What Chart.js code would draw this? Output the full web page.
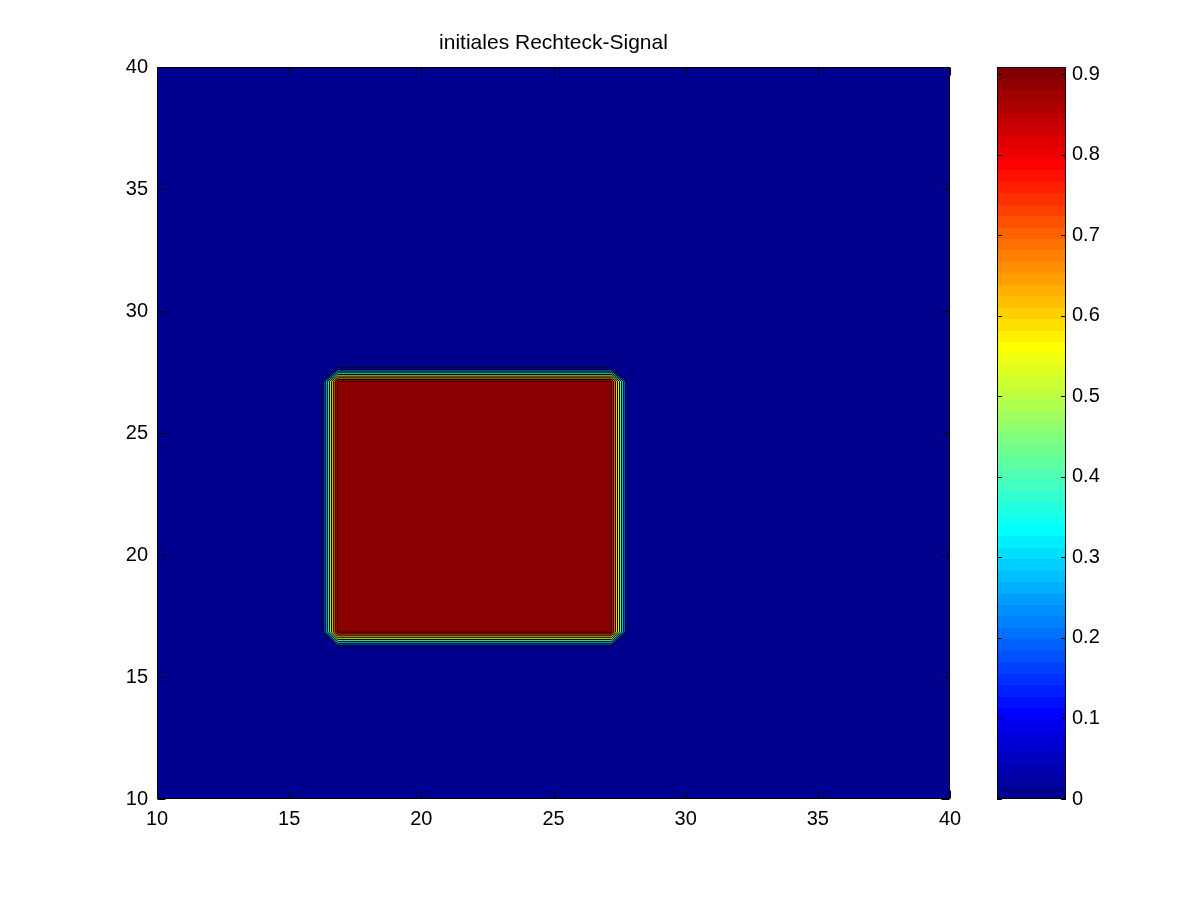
<!DOCTYPE html>
<html>
<head>
<meta charset="utf-8">
<script src="https://cdn.jsdelivr.net/npm/chart.js@4/dist/chart.umd.min.js"></script>
<style>
  html, body { margin: 0; padding: 0; background: #ffffff; }
  #wrap { width: 1200px; height: 900px; }
</style>
</head>
<body>
<div id="wrap"><canvas id="c" width="1200" height="900"></canvas></div>
<script>
// ---- data ----
const titleText = 'initiales Rechteck-Signal';
const xTickValues = [10, 15, 20, 25, 30, 35, 40];
const yTickValues = [10, 15, 20, 25, 30, 35, 40];
const cTickValues = [0, 0.1, 0.2, 0.3, 0.4, 0.5, 0.6, 0.7, 0.8, 0.9];
// grid nodes of the signal (x and y) and the on/off profile at those nodes
const gridX    = [10, 16.17, 16.82, 27.19, 27.87, 40];
const profileX = [0,  0,     1,     1,     0,     0];
const gridY    = [10, 16.16, 16.84, 27.12, 27.74, 40];
const profileY = [0,  0,     1,     1,     0,     0];
const amplitude = 0.909;           // height of the rectangle signal (colour max)
const contourLevels = [0, 0.1, 0.2, 0.3, 0.4, 0.5, 0.6, 0.7, 0.8, 0.9];
const colormapSize = 64;

// table of node values built from the arrays above
const zTable = gridY.map((_, j) => gridX.map((_, i) => amplitude * profileX[i] * profileY[j]));

function jet(t) {
  const c = v => Math.max(0, Math.min(1, v));
  const r = c(1.5 - Math.abs(4 * t - 3));
  const g = c(1.5 - Math.abs(4 * t - 2));
  const b = c(1.5 - Math.abs(4 * t - 1));
  return 'rgb(' + Math.round(r * 255) + ',' + Math.round(g * 255) + ',' + Math.round(b * 255) + ')';
}
function levelColor(L) {
  return jet(Math.max(1 / colormapSize, L / amplitude));
}

function cellCorners(i, j) {
  return [
    { x: gridX[i],     y: gridY[j],     z: zTable[j][i] },
    { x: gridX[i + 1], y: gridY[j],     z: zTable[j][i + 1] },
    { x: gridX[i + 1], y: gridY[j + 1], z: zTable[j + 1][i + 1] },
    { x: gridX[i],     y: gridY[j + 1], z: zTable[j + 1][i] }
  ];
}
function interp(p, q, L) {
  const f = (L - p.z) / (q.z - p.z);
  return { x: p.x + f * (q.x - p.x), y: p.y + f * (q.y - p.y) };
}

const contourPlugin = {
  id: 'contourPlugin',
  beforeDatasetsDraw(chart) {
    const ctx = chart.ctx, xs = chart.scales.x, ys = chart.scales.y, a = chart.chartArea;
    ctx.save();
    ctx.beginPath();
    ctx.rect(a.left, a.top, a.right - a.left, a.bottom - a.top);
    ctx.clip();
    contourLevels.forEach(L => {
      ctx.beginPath();
      for (let j = 0; j < gridY.length - 1; j++) {
        for (let i = 0; i < gridX.length - 1; i++) {
          const c = cellCorners(i, j);
          const pts = [];
          for (let k = 0; k < 4; k++) {
            const p = c[k], q = c[(k + 1) % 4];
            const pin = p.z >= L, qin = q.z >= L;
            if (pin) pts.push(p);
            if (pin !== qin) pts.push(interp(p, q, L));
          }
          if (pts.length >= 3) {
            ctx.moveTo(xs.getPixelForValue(pts[0].x), ys.getPixelForValue(pts[0].y));
            for (let m = 1; m < pts.length; m++) {
              ctx.lineTo(xs.getPixelForValue(pts[m].x), ys.getPixelForValue(pts[m].y));
            }
            ctx.closePath();
          }
        }
      }
      ctx.fillStyle = levelColor(L);
      ctx.fill();
    });
    ctx.strokeStyle = '#000000';
    ctx.lineWidth = 1;
    contourLevels.forEach(L => {
      if (L <= 0) return;
      ctx.beginPath();
      for (let j = 0; j < gridY.length - 1; j++) {
        for (let i = 0; i < gridX.length - 1; i++) {
          const c = cellCorners(i, j);
          const cr = [];
          for (let k = 0; k < 4; k++) {
            const p = c[k], q = c[(k + 1) % 4];
            if ((p.z >= L) !== (q.z >= L)) cr.push(interp(p, q, L));
          }
          for (let m = 0; m + 1 < cr.length; m += 2) {
            ctx.moveTo(xs.getPixelForValue(cr[m].x), ys.getPixelForValue(cr[m].y));
            ctx.lineTo(xs.getPixelForValue(cr[m + 1].x), ys.getPixelForValue(cr[m + 1].y));
          }
        }
      }
      ctx.stroke();
    });
    ctx.restore();
  },
  afterDraw(chart) {
    const ctx = chart.ctx, xs = chart.scales.x, ys = chart.scales.y, cs = chart.scales.c, a = chart.chartArea;
    const L = Math.round(a.left) + 0.5, R = Math.round(a.right) - 0.5;
    const T = Math.round(a.top) + 0.5, B = Math.round(a.bottom) - 0.5;
    ctx.save();
    ctx.strokeStyle = '#000000';
    ctx.lineWidth = 1;
    ctx.beginPath();
    ctx.rect(L, T, R - L, B - T);
    const tl = 8;
    xTickValues.forEach(v => {
      const px = Math.round(xs.getPixelForValue(v)) + 0.5;
      ctx.moveTo(px, B); ctx.lineTo(px, B - tl);
      ctx.moveTo(px, T); ctx.lineTo(px, T + tl);
    });
    yTickValues.forEach(v => {
      const py = Math.round(ys.getPixelForValue(v)) + 0.5;
      ctx.moveTo(L, py); ctx.lineTo(L + tl, py);
      ctx.moveTo(R, py); ctx.lineTo(R - tl, py);
    });
    ctx.stroke();

    const cbL = Math.round(a.right) + 47, cbR = Math.round(a.right) + 116;
    for (let i = 1; i <= colormapSize; i++) {
      const v0 = (i - 1) / colormapSize * amplitude, v1 = i / colormapSize * amplitude;
      const y0 = cs.getPixelForValue(v1), y1 = cs.getPixelForValue(v0);
      ctx.fillStyle = jet(i / colormapSize);
      ctx.fillRect(cbL, Math.floor(y0), cbR - cbL, Math.ceil(y1) - Math.floor(y0));
    }
    ctx.beginPath();
    ctx.rect(cbL + 0.5, T, cbR - cbL - 1, B - T);
    cTickValues.forEach(v => {
      const py = Math.round(cs.getPixelForValue(v)) + 0.5;
      ctx.moveTo(cbL, py); ctx.lineTo(cbL + 5, py);
      ctx.moveTo(cbR, py); ctx.lineTo(cbR - 5, py);
    });
    ctx.stroke();
    ctx.restore();
  }
};

const font = { family: "'Liberation Sans', Arial, Helvetica, sans-serif", size: 20 };
function noPad(s) { s.paddingTop = 0; s.paddingBottom = 0; s.paddingLeft = 0; s.paddingRight = 0; }

new Chart(document.getElementById('c'), {
  type: 'scatter',
  data: { datasets: [{ data: [], showLine: false }] },
  options: {
    responsive: false,
    devicePixelRatio: 1,
    animation: false,
    layout: { padding: { left: 0, top: 0, bottom: 0, right: 93 } },
    plugins: {
      legend: { display: false },
      tooltip: { enabled: false },
      title: {
        display: true,
        text: titleText,
        color: '#000000',
        font: { family: font.family, size: 21, weight: 'normal' },
        lineHeight: 1.2,
        padding: { top: 31, bottom: 10.8 }
      }
    },
    scales: {
      x: {
        type: 'linear', position: 'bottom', min: 10, max: 40,
        grid: { display: false, drawTicks: false },
        border: { display: false },
        ticks: { color: '#000000', font: font, padding: 8, maxRotation: 0, autoSkip: false },
        afterBuildTicks: s => { s.ticks = xTickValues.map(v => ({ value: v })); },
        afterFit: s => { s.height = 101; noPad(s); }
      },
      y: {
        type: 'linear', position: 'left', min: 10, max: 40,
        grid: { display: false, drawTicks: false },
        border: { display: false },
        ticks: { color: '#000000', font: font, padding: 9, autoSkip: false },
        afterBuildTicks: s => { s.ticks = yTickValues.map(v => ({ value: v })); },
        afterFit: s => { s.width = 157; noPad(s); }
      },
      c: {
        type: 'linear', position: 'right', min: 0, max: amplitude,
        grid: { display: false, drawTicks: false },
        border: { display: false },
        ticks: { color: '#000000', font: font, padding: 122, autoSkip: false,
                 callback: v => String(Math.round(v * 10) / 10) },
        afterBuildTicks: s => { s.ticks = cTickValues.map(v => ({ value: v })); },
        afterFit: s => { s.width = 157; noPad(s); }
      }
    }
  },
  plugins: [contourPlugin]
});
</script>
</body>
</html>
